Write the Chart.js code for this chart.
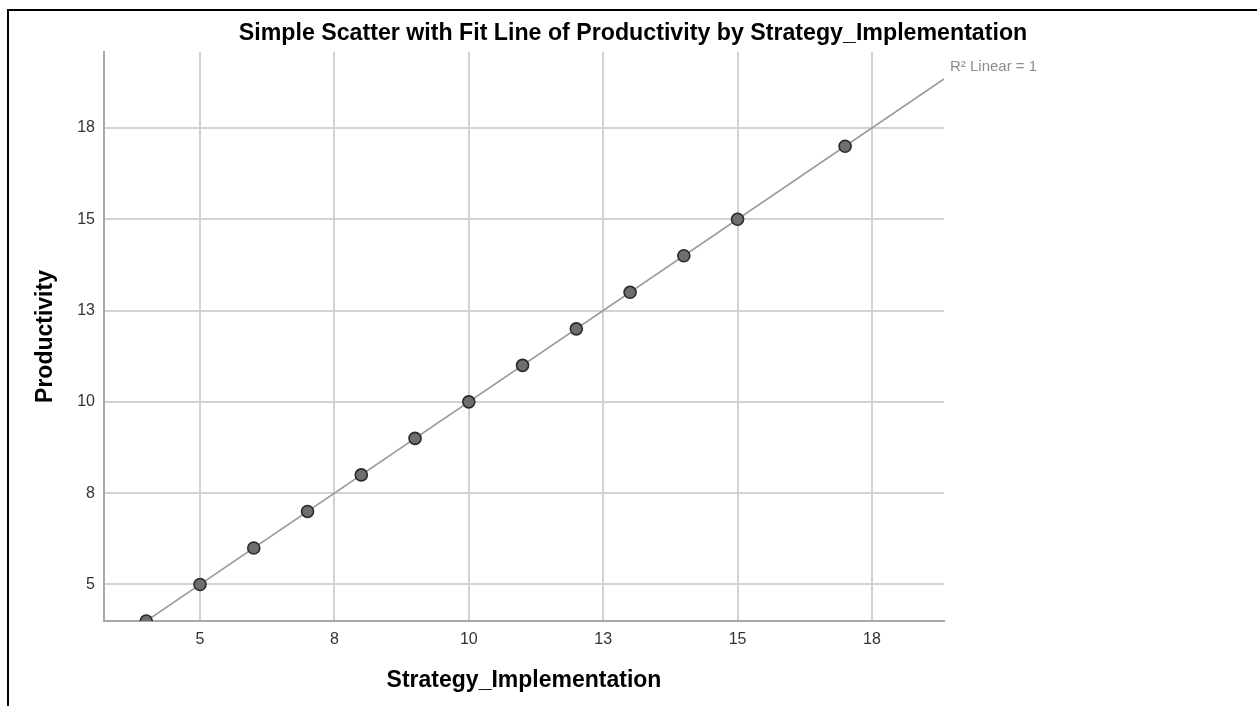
<!DOCTYPE html>
<html>
<head>
<meta charset="utf-8">
<script src="https://cdn.jsdelivr.net/npm/chart.js@4.4.1/dist/chart.umd.min.js"></script>
<style>
  html, body { margin: 0; padding: 0; background: #ffffff; overflow: hidden; }
  #wrap { position: relative; width: 1257px; height: 706px; }
</style>
</head>
<body>
<div id="wrap"><canvas id="c"></canvas></div>
<script>
// ---- data ----
const chartTitle = 'Simple Scatter with Fit Line of Productivity by Strategy_Implementation';
const xAxisTitle = 'Strategy_Implementation';
const yAxisTitle = 'Productivity';
const fitLabel = 'R\u00B2 Linear = 1';

const strategyImplementation = [4, 5, 6, 7, 8, 9, 10, 11, 12, 13, 14, 15, 17];
const productivity          = [4, 5, 6, 7, 8, 9, 10, 11, 12, 13, 14, 15, 17];

const xTickValues = [5, 7.5, 10, 12.5, 15, 17.5];
const xTickLabels = ['5', '8', '10', '13', '15', '18'];
const yTickValues = [5, 7.5, 10, 12.5, 15, 17.5];
const yTickLabels = ['5', '8', '10', '13', '15', '18'];

const xRange = [3.214, 18.84];
const yRange = [4.0, 19.58];

// ---- least-squares fit line from the data ----
function linearFit(xs, ys) {
  const n = xs.length;
  const mx = xs.reduce((a, b) => a + b, 0) / n;
  const my = ys.reduce((a, b) => a + b, 0) / n;
  let sxy = 0, sxx = 0;
  for (let i = 0; i < n; i++) { sxy += (xs[i] - mx) * (ys[i] - my); sxx += (xs[i] - mx) ** 2; }
  const slope = sxy / sxx;
  return { slope, intercept: my - slope * mx };
}
const fit = linearFit(strategyImplementation, productivity);
const fitPoints = xRange.map(x => ({ x, y: fit.intercept + fit.slope * x }));

const points = strategyImplementation.map((x, i) => ({ x, y: productivity[i] }));

const FONT = "'Liberation Sans', Arial, sans-serif";

const decorPlugin = {
  id: 'decor',
  afterDraw(chart) {
    const ctx = chart.ctx;
    ctx.save();
    // frame
    ctx.strokeStyle = '#000000';
    ctx.lineWidth = 2;
    ctx.beginPath();
    ctx.moveTo(8, 706);
    ctx.lineTo(8, 10);
    ctx.lineTo(1257, 10);
    ctx.stroke();
    // main title
    ctx.fillStyle = '#000000';
    ctx.font = 'bold 23.2px ' + FONT;
    ctx.textAlign = 'center';
    ctx.textBaseline = 'middle';
    ctx.fillText(chartTitle, 633, 34);
    // fit label
    const xs = chart.scales.x;
    ctx.fillStyle = '#8c8c8c';
    ctx.font = '15px ' + FONT;
    ctx.textAlign = 'left';
    ctx.fillText(fitLabel, xs.right + 6, 67);
    ctx.restore();
  }
};

new Chart(document.getElementById('c'), {
  type: 'scatter',
  data: {
    datasets: [
      {
        label: 'Productivity',
        data: points,
        order: 0,
        clip: 0,
        pointRadius: 6,
        pointHoverRadius: 6,
        pointBackgroundColor: '#6e6e6e',
        pointBorderColor: '#2a2a2a',
        pointBorderWidth: 1.6
      },
      {
        label: 'Linear fit',
        data: fitPoints,
        order: 1,
        clip: 0,
        showLine: true,
        pointRadius: 0,
        borderColor: '#9a9a9a',
        borderWidth: 1.6,
        fill: false
      }
    ]
  },
  options: {
    responsive: true,
    maintainAspectRatio: false,
    animation: false,
    events: [],
    layout: { padding: { top: 52, right: 313, left: 0, bottom: 0 } },
    plugins: {
      legend: { display: false },
      title: { display: false },
      tooltip: { enabled: false }
    },
    scales: {
      x: {
        type: 'linear',
        position: 'bottom',
        min: xRange[0],
        max: xRange[1],
        afterBuildTicks(scale) { scale.ticks = xTickValues.map(v => ({ value: v })); },
        afterFit(scale) { scale.height = 85; },
        ticks: {
          padding: 9,
          color: '#333333',
          font: { family: FONT, size: 16 },
          callback: (v, i) => xTickLabels[i]
        },
        grid: { color: '#d2d2d2', lineWidth: 2, drawTicks: false },
        border: { display: true, color: '#a8a8a8', width: 2 },
        title: {
          display: true,
          text: xAxisTitle,
          color: '#000000',
          font: { family: FONT, size: 23, weight: 'bold' },
          padding: { top: 0, bottom: 12 }
        }
      },
      y: {
        type: 'linear',
        position: 'left',
        min: yRange[0],
        max: yRange[1],
        afterBuildTicks(scale) { scale.ticks = yTickValues.map(v => ({ value: v })); },
        afterFit(scale) { scale.width = 104; },
        ticks: {
          padding: 9,
          color: '#333333',
          font: { family: FONT, size: 16 },
          callback: (v, i) => yTickLabels[i]
        },
        grid: { color: '#d2d2d2', lineWidth: 2, drawTicks: false },
        border: { display: true, color: '#a8a8a8', width: 2 },
        title: {
          display: true,
          text: yAxisTitle,
          color: '#000000',
          font: { family: FONT, size: 23, weight: 'bold' },
          padding: { top: 32, bottom: 0 }
        }
      }
    }
  },
  plugins: [decorPlugin]
});
</script>
</body>
</html>
